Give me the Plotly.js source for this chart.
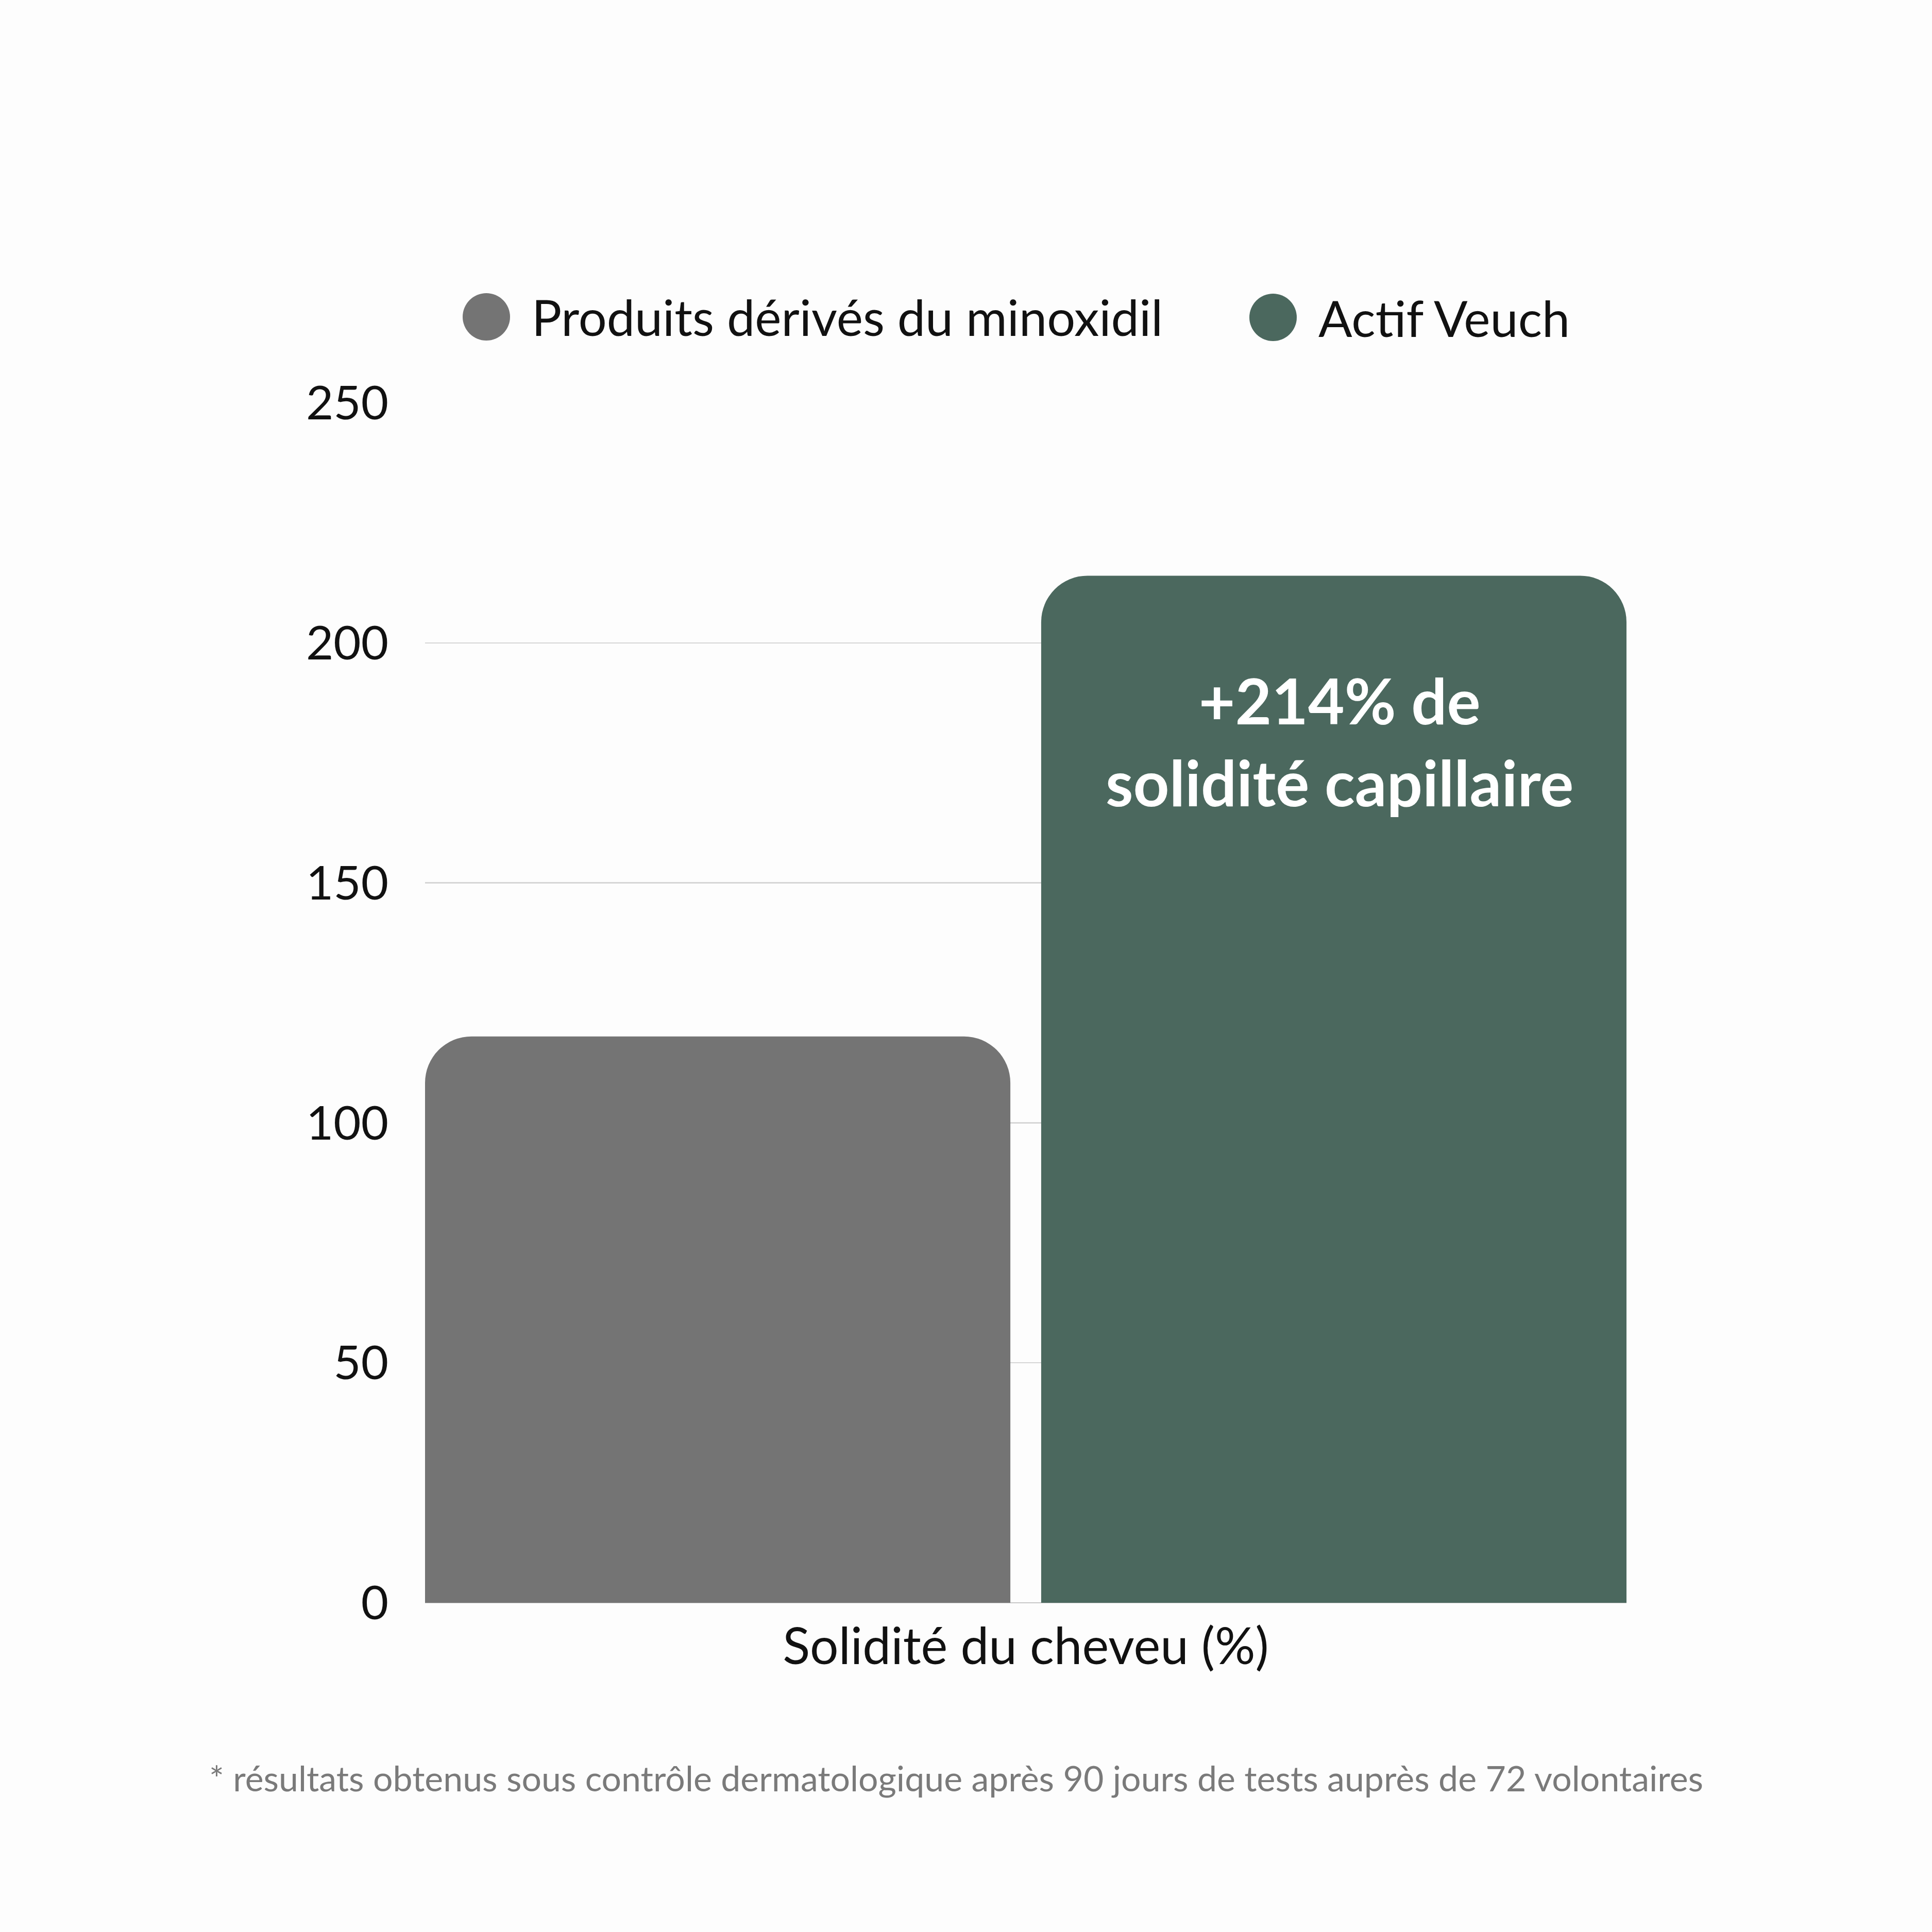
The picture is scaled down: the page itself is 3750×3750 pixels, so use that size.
<!DOCTYPE html>
<html>
<head>
<meta charset="utf-8">
<script src="https://cdn.plot.ly/plotly-3.0.1.min.js"></script>
<style>
  html, body { margin: 0; padding: 0; background: #fdfdfd; }
</style>
</head>
<body>
<div id="chart"></div>
<script>
const categories = ['Solidité du cheveu (%)']
const seriesNames = ['Produits dérivés du minoxidil', 'Actif Veuch']
const minoxidilValues = [118]
const veuchValues = [214]
const yTicks = [0, 50, 100, 150, 200, 250]
const barLabel = ['+214% de', 'solidité capillaire']
const footnote = '* résultats obtenus sous contrôle dermatologique après 90 jours de tests auprès de 72 volontaires'

const colors = ['#747474', '#4b685e']
const font = 'Lato, "Open Sans", sans-serif'

// page geometry (px)
const W = 3750, H = 3750
const margin = { l: 825, r: 593, t: 782, b: 639 }
const plotW = W - margin.l - margin.r
const plotH = H - margin.t - margin.b
const px2x = px => (px - margin.l) / plotW
const px2y = py => (H - margin.b - py) / plotH

const data = [
  {
    type: 'bar', name: seriesNames[0], x: categories, y: minoxidilValues,
    marker: { color: colors[0], cornerradius: 90, line: { width: 0 } },
    showlegend: false, hoverinfo: 'none'
  },
  {
    type: 'bar', name: seriesNames[1], x: categories, y: veuchValues,
    marker: { color: colors[1], cornerradius: 90, line: { width: 0 } },
    showlegend: false, hoverinfo: 'none'
  }
]

// legend drawn by hand: big circle + label
const legendCenters = [[944, 615], [2471, 616]]
const shapes = legendCenters.map((c, i) => ({
  type: 'circle', xref: 'paper', yref: 'paper',
  xsizemode: 'pixel', ysizemode: 'pixel',
  xanchor: px2x(c[0]), yanchor: px2y(c[1]),
  x0: -46, x1: 46, y0: -46, y1: 46,
  fillcolor: colors[i], line: { width: 0 }, layer: 'above'
}))

const annotations = []
legendCenters.forEach((c, i) => {
  annotations.push({
    xref: 'paper', yref: 'paper', x: px2x(c[0] + 86), y: px2y(c[1]),
    xanchor: 'left', yanchor: 'middle', showarrow: false,
    text: seriesNames[i], font: { family: font, size: 97, color: '#111111' }
  })
})

// label inside the green bar
annotations.push({
  xref: 'paper', yref: 'y', x: px2x(2600), y: veuchValues[0],
  xanchor: 'center', yanchor: 'middle', yshift: -321, showarrow: false,
  align: 'center',
  text: barLabel.join('<br>'),
  font: { family: font, size: 122, weight: 'bold', color: '#ffffff' }
})

annotations.push({
  xref: 'paper', yref: 'paper', x: px2x(1856), y: px2y(3450),
  xanchor: 'center', yanchor: 'middle', showarrow: false,
  text: footnote, font: { family: font, size: 68, color: '#7a7a7a' }
})

const layout = {
  width: W, height: H,
  margin: margin,
  paper_bgcolor: '#fdfdfd', plot_bgcolor: '#fdfdfd',
  barmode: 'group', bargap: 0, bargroupgap: 0.05,
  showlegend: false,
  xaxis: {
    type: 'category', range: [-0.4875, 0.4875],
    showgrid: false, showline: false, zeroline: false, ticks: '',
    ticklabelstandoff: 20,
    tickfont: { family: font, size: 98, color: '#111111' },
    fixedrange: true
  },
  yaxis: {
    range: [0, 250], tickvals: yTicks,
    showgrid: true, gridcolor: '#d6d6d6', gridwidth: 2.5,
    zeroline: true, zerolinecolor: '#c8c8c8', zerolinewidth: 2.5,
    showline: false, ticks: '', ticklabelstandoff: 70,
    tickfont: { family: font, size: 92, color: '#111111' },
    fixedrange: true
  },
  shapes: shapes,
  annotations: annotations
}

const config = { staticPlot: true, displayModeBar: false, responsive: false }

Plotly.newPlot('chart', data, layout, config)
</script>
</body>
</html>
